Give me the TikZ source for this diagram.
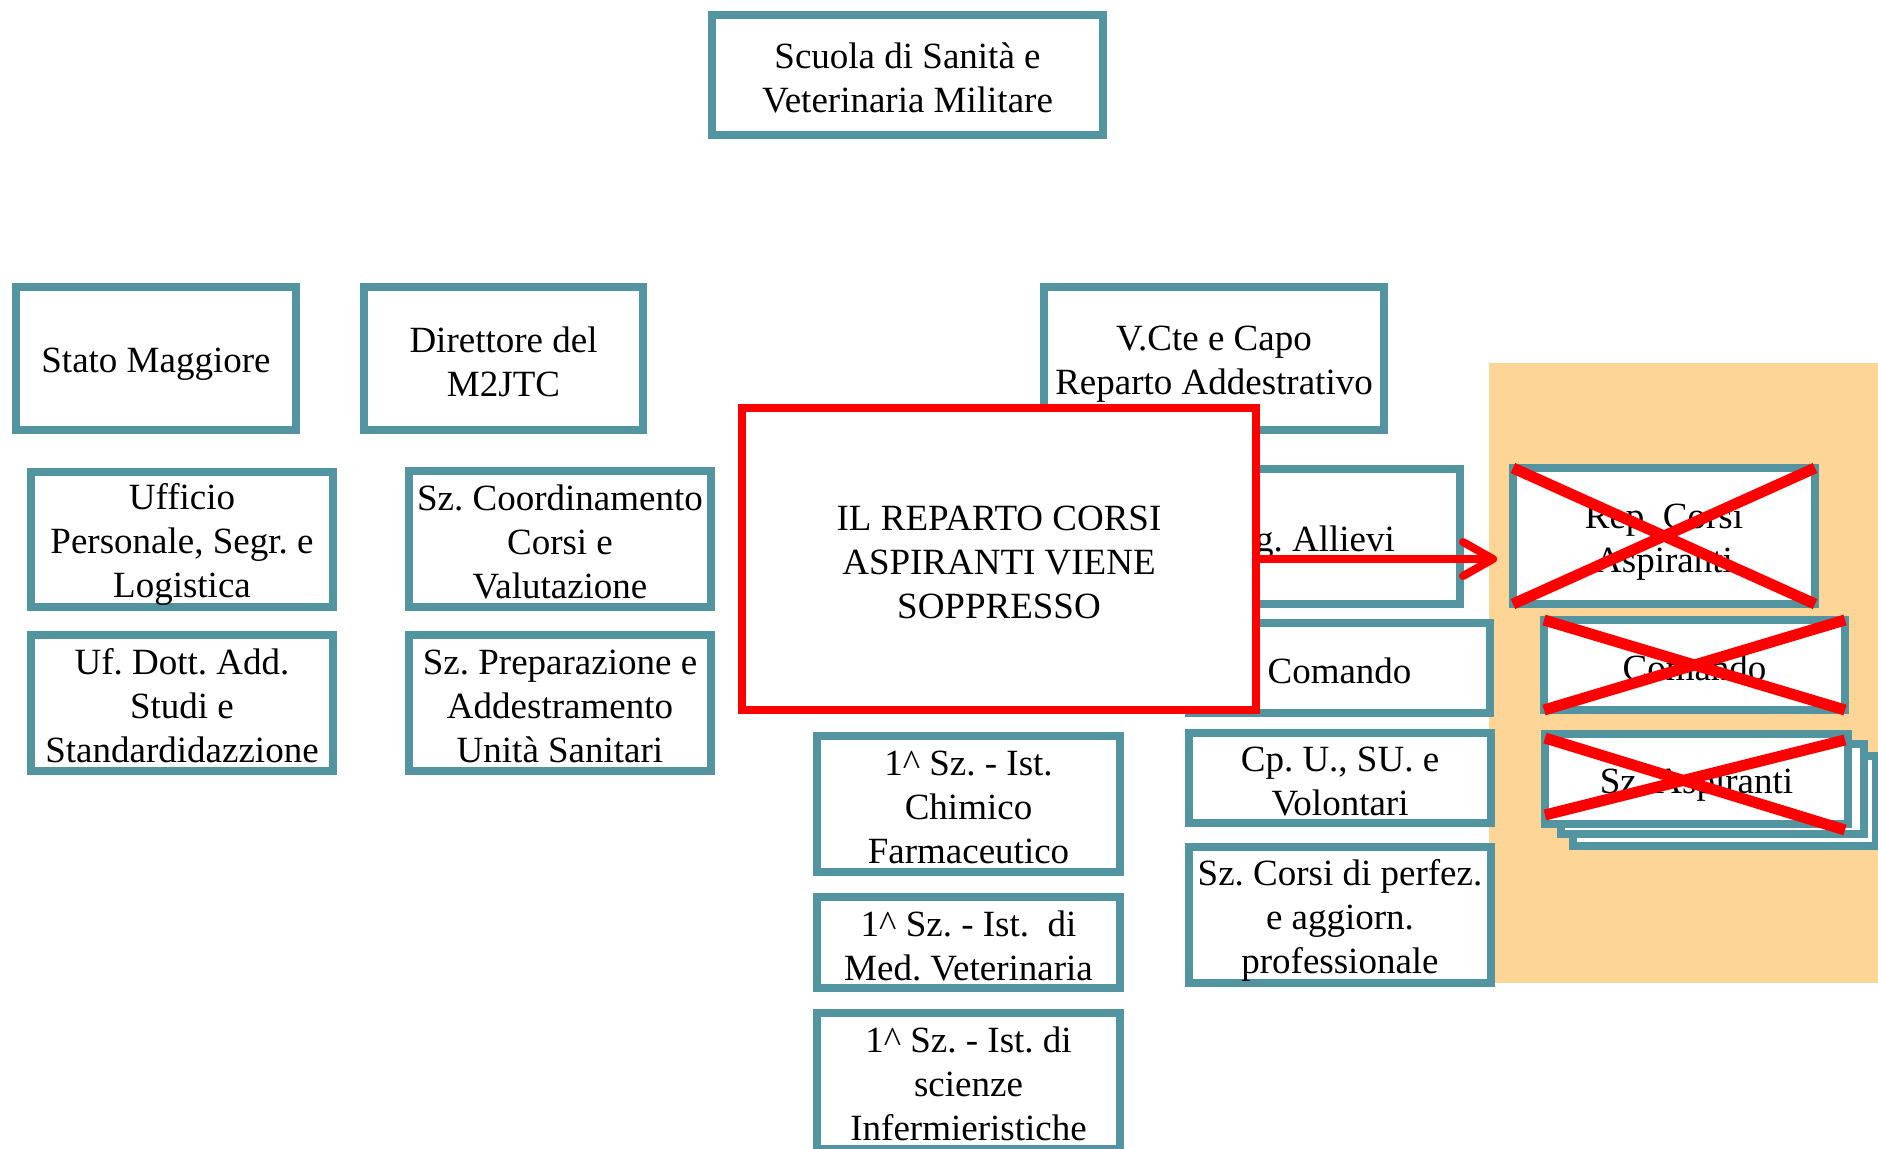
\documentclass[tikz,border=0pt]{standalone}
\usepackage{fontspec}
\setmainfont{Liberation Serif}
\usetikzlibrary{arrows.meta}
\definecolor{tealb}{HTML}{5294A0}
\definecolor{orng}{HTML}{FDD597}
\definecolor{redx}{HTML}{FF0000}
\frenchspacing
\tikzset{
  box/.style={draw=tealb, line width=8pt, fill=white, rectangle, inner sep=0pt, outer sep=0pt,
    align=center, font=\fontsize{37pt}{44pt}\selectfont,
    execute at begin node={\rule{0pt}{36pt}}, execute at end node={\rule[-5pt]{0pt}{0pt}}},
  twolines/.style={execute at begin node={\rule{0pt}{80pt}}},
  threelines/.style={execute at begin node={\rule{0pt}{124pt}}},
  redbox/.style={box, draw=redx},
  crossline/.style={draw=redx, line width=11pt},
  redarrow/.style={draw=redx, line width=8pt, -{Straight Barb[length=30pt,width=34pt,round]}},
  plaintext/.style={inner sep=0pt, font=\fontsize{37pt}{44pt}\selectfont}
}
\begin{document}
\begin{tikzpicture}[x=1pt,y=-1pt]
\useasboundingbox (0,0) rectangle (1878,1148);
\clip (0,0) rectangle (1878,1148);
% orange background
\fill[orng] (1489,363) rectangle (1900,983);
% top
\node[box, twolines, minimum width=391pt, minimum height=120pt] (scuola) at (907.5,75) {Scuola di Sanità e\\Veterinaria Militare};
% second row
\node[box, minimum width=280pt, minimum height=143pt] (stato) at (156,358.5) {Stato Maggiore};
\node[box, twolines, minimum width=279pt, minimum height=143pt] (dir) at (503.5,358.5) {Direttore del\\M2JTC};
\node[box, twolines, minimum width=340pt, minimum height=143pt] (vcte) at (1214,358.5) {V.Cte e Capo\\Reparto Addestrativo};
% left columns
\node[box, threelines, minimum width=302pt, minimum height=135pt] (uff) at (182,539.5) {Ufficio\\Personale, Segr. e\\Logistica};
\node[box, threelines, minimum width=302pt, minimum height=136pt] (ufdott) at (182,703) {Uf. Dott. Add.\\Studi e\\Standardidazzione};
\node[box, threelines, minimum width=302pt, minimum height=136pt] (szcoord) at (560,539) {Sz. Coordinamento\\Corsi e\\Valutazione};
\node[box, threelines, minimum width=302pt, minimum height=136pt] (szprep) at (560,703) {Sz. Preparazione e\\Addestramento\\Unità Sanitari};
% middle column
\node[box, threelines, minimum width=303pt, minimum height=136pt] (ist1) at (968.5,804) {1\textasciicircum{} Sz. - Ist.\\Chimico\\Farmaceutico};
\node[box, twolines, minimum width=303pt, minimum height=91pt] (ist2) at (968.5,942.5) {1\textasciicircum{} Sz. - Ist.\ \ di\\Med. Veterinaria};
\node[box, threelines, minimum width=303pt, minimum height=136pt] (ist3) at (968.5,1081) {1\textasciicircum{} Sz. - Ist. di\\scienze\\Infermieristiche};
% right column
\node[box, minimum width=302pt, minimum height=135pt] (allievi) at (1309,536.5) {};
\node[plaintext, anchor=base east] (allievitxt) at (1395,551) {g. Allievi};
\node[box, minimum width=301pt, minimum height=90pt] (comando) at (1339.5,668) {Comando};
\node[box, twolines, minimum width=302pt, minimum height=90pt] (cpu) at (1340,778) {Cp. U., SU. e\\Volontari};
\node[box, threelines, minimum width=302pt, minimum height=136pt] (szcorsi) at (1340,915) {Sz. Corsi di perfez.\\e aggiorn.\\professionale};
% suppressed boxes
\node[box, twolines, minimum width=302pt, minimum height=136pt] (rep) at (1664,536) {Rep. Corsi\\Aspiranti};
\node[box, minimum width=301pt, minimum height=90pt] (comx) at (1694.5,665) {Comando};
\node[box, minimum width=303pt, minimum height=90pt] (aspc) at (1724.5,801) {};
\node[box, minimum width=303pt, minimum height=90pt] (aspb) at (1712.5,789) {};
\node[box, minimum width=303pt, minimum height=90pt] (aspa) at (1696.5,779) {Sz. Aspiranti};
% red box
\node[redbox, threelines, minimum width=514pt, minimum height=302pt] (soppr) at (999,559) {IL REPARTO CORSI\\ASPIRANTI VIENE\\SOPPRESSO};
\draw[redarrow] (soppr.east) -- ([xshift=-16pt]soppr.east -| rep.west);
% crosses
\draw[crossline] (rep.north west) -- (rep.south east) (rep.south west) -- (rep.north east);
\draw[crossline] (comx.north west) -- (comx.south east) (comx.south west) -- (comx.north east);
\draw[crossline] ([yshift=-4pt]aspa.north west) -- ([xshift=-3pt,yshift=-6pt]aspa.south east)
  ([yshift=9pt]aspa.south west) -- ([xshift=-3pt,yshift=-6pt]aspa.north east);
\end{tikzpicture}
\end{document}
